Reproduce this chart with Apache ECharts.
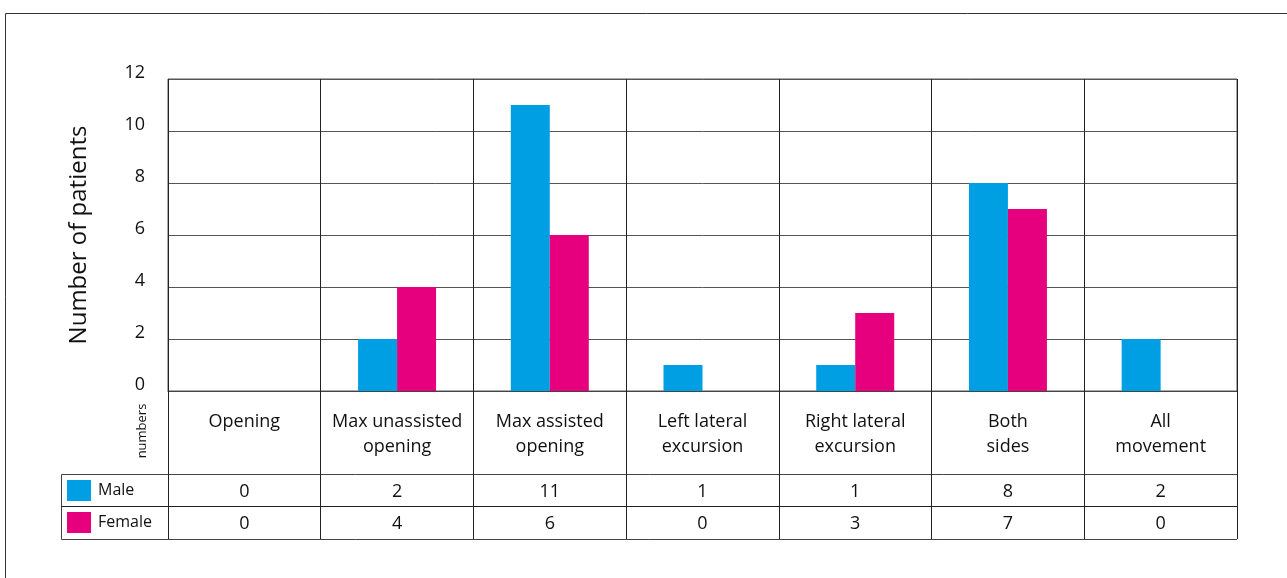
<!DOCTYPE html>
<html>
<head>
<meta charset="utf-8">
<script src="https://cdn.jsdelivr.net/npm/echarts@6/dist/echarts.min.js"></script>
<style>
  html, body { margin: 0; padding: 0; background: #fff; }
  #chart { width: 1287px; height: 578px; }
</style>
</head>
<body>
<div id="chart"></div>
<script>
// chart data
var categories = [
  "Opening",
  "Max unassisted\nopening",
  "Max assisted\nopening",
  "Left lateral\nexcursion",
  "Right lateral\nexcursion",
  "Both\nsides",
  "All\nmovement",
];
var maleValues = [0, 2, 11, 1, 1, 8, 2];
var femaleValues = [0, 4, 6, 0, 3, 7, 0];
var yTicks = [0, 2, 4, 6, 8, 10, 12];

var font = "Open Sans";
var maleColor = "#009fe3";
var femaleColor = "#e6007e";

var chart = echarts.init(document.getElementById("chart"));

// grid box in px
var gLeft = 168, gRight = 1237, gTop = 79, gBottom = 391;
var tableLeft = 61;
var rowTop = 474, rowMid = 506, rowEnd = 539;

var option = {
  animation: false,
  textStyle: { fontFamily: font, color: "#111" },
  grid: {
    left: gLeft,
    right: 1287 - gRight,
    top: gTop,
    bottom: 578 - gBottom,
    show: true,
    borderColor: "#555",
    borderWidth: 1,
  },
  legend: {
    orient: "vertical",
    left: 67,
    top: 480,
    padding: 0,
    itemWidth: 24,
    itemHeight: 21,
    itemGap: 11,
    icon: "rect",
    textStyle: { fontFamily: font, fontSize: 16, color: "#111", padding: [0, 0, 0, 2] },
    data: ["Male", "Female"],
  },
  xAxis: [
    {
      type: "category",
      data: categories,
      axisLine: { show: true, lineStyle: { color: "#444", width: 1 } },
      axisTick: { show: true, interval: 0, length: rowEnd - gBottom, lineStyle: { color: "#222", width: 1 } },
      splitLine: { show: true, interval: 0, lineStyle: { color: "#222", width: 1 } },
      axisLabel: {
        interval: 0,
        margin: 18,
        fontFamily: font,
        fontSize: 18,
        lineHeight: 25,
        color: "#111",
      },
    },
    {
      type: "category",
      position: "bottom",
      offset: 492 - gBottom,
      data: maleValues.map(String),
      axisLine: { show: false },
      axisTick: { show: false },
      axisLabel: { interval: 0, margin: 0, verticalAlign: "middle", fontFamily: font, fontSize: 18, color: "#111" },
    },
    {
      type: "category",
      position: "bottom",
      offset: 524 - gBottom,
      data: femaleValues.map(String),
      axisLine: { show: false },
      axisTick: { show: false },
      axisLabel: { interval: 0, margin: 0, verticalAlign: "middle", fontFamily: font, fontSize: 18, color: "#111" },
    },
  ],
  yAxis: {
    type: "value",
    min: yTicks[0],
    max: yTicks[yTicks.length - 1],
    interval: 2,
    name: "Number of patients",
    nameLocation: "middle",
    nameRotate: 90,
    nameGap: 77,
    nameTextStyle: { fontFamily: font, fontSize: 24, color: "#111" },
    axisLine: { show: false },
    axisTick: { show: false },
    splitLine: { show: true, lineStyle: { color: "#555", width: 1 } },
    axisLabel: {
      margin: 23,
      fontFamily: font,
      fontSize: 18,
      color: "#111",
      verticalAlign: "bottom",
      lineHeight: 12,
    },
  },
  series: [
    {
      name: "Male",
      type: "bar",
      data: maleValues,
      barWidth: 39,
      barGap: "0%",
      itemStyle: { color: maleColor },
    },
    {
      name: "Female",
      type: "bar",
      data: femaleValues,
      barWidth: 39,
      itemStyle: { color: femaleColor },
    },
  ],
  graphic: [
    // outer frame
    {
      type: "rect",
      shape: { x: 5.5, y: 13.5, width: 1400, height: 700 },
      style: { fill: null, stroke: "#333", lineWidth: 1 },
      silent: true,
    },
    // table rows
    {
      type: "polyline",
      shape: { points: [[gRight, rowTop + 0.5], [tableLeft + 0.5, rowTop + 0.5], [tableLeft + 0.5, rowEnd + 0.5], [gRight, rowEnd + 0.5]] },
      style: { fill: null, stroke: "#444", lineWidth: 1 },
      silent: true,
    },
    {
      type: "line",
      shape: { x1: tableLeft, y1: rowMid + 0.5, x2: gRight, y2: rowMid + 0.5 },
      style: { stroke: "#222", lineWidth: 1 },
      silent: true,
    },
    {
      type: "text",
      x: 142,
      y: 431,
      rotation: Math.PI / 2,
      style: {
        text: "numbers",
        fontFamily: font,
        fontSize: 13,
        fill: "#111",
        align: "center",
        verticalAlign: "middle",
      },
      silent: true,
    },
  ],
};

chart.setOption(option);
</script>
</body>
</html>
